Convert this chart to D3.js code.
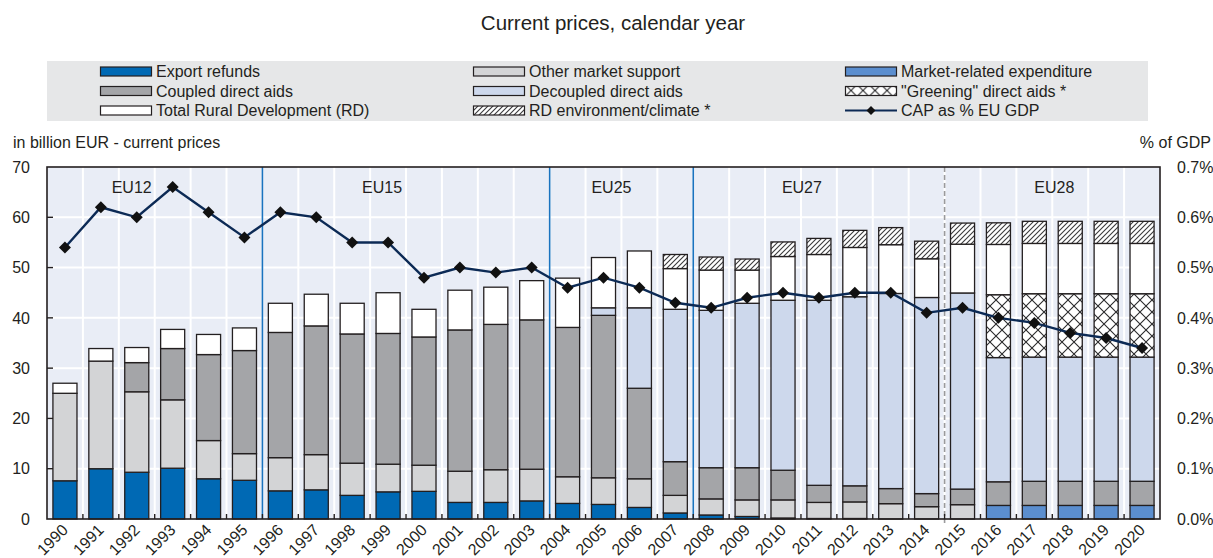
<!DOCTYPE html>
<html>
<head>
<meta charset="utf-8">
<script src="https://cdn.jsdelivr.net/npm/d3@7"></script>
<style>
  html, body { margin: 0; padding: 0; background: #ffffff; }
  svg { display: block; }
  text { font-family: "Liberation Sans", Arial, Helvetica, sans-serif; fill: #231f20; }
</style>
</head>
<body>
<svg id="chart" width="1213" height="558"></svg>
<script>
// ---- Data (billion EUR, current prices) ----
const years = ["1990","1991","1992","1993","1994","1995","1996","1997","1998","1999",
  "2000","2001","2002","2003","2004","2005","2006","2007","2008","2009",
  "2010","2011","2012","2013","2014","2015","2016","2017","2018","2019","2020"];

const exportRefunds = [7.6,10.0,9.3,10.1,8.0,7.7,5.6,5.8,4.7,5.4,
  5.5,3.3,3.3,3.6,3.1,2.9,2.3,1.2,0.8,0.5,
  0.2,0.1,0.1,0,0,0,0,0,0,0,0];
const marketRelated = [0,0,0,0,0,0,0,0,0,0,
  0,0,0,0,0,0,0,0,0,0,
  0,0,0,0,0,0,2.7,2.7,2.7,2.7,2.7];
const otherMarket = [17.4,21.4,16.0,13.6,7.6,5.3,6.6,7.0,6.4,5.5,
  5.2,6.2,6.5,6.3,5.3,5.3,5.7,3.5,3.2,3.3,
  3.6,3.2,3.3,3.05,2.45,2.85,0,0,0,0,0];
const coupledAids = [0,0,5.8,10.2,17.1,20.5,24.9,25.6,25.7,26.0,
  25.5,28.1,28.9,29.7,29.7,32.3,18.0,6.7,6.2,6.4,
  5.9,3.4,3.2,3.0,2.6,3.1,4.7,4.8,4.8,4.8,4.8];
const decoupledAids = [0,0,0,0,0,0,0,0,0,0,
  0,0,0,0,0,1.5,16.0,30.3,31.3,32.7,
  33.8,36.8,37.6,38.8,39.0,39.0,24.7,24.7,24.7,24.7,24.7];
const greeningAids = [0,0,0,0,0,0,0,0,0,0,
  0,0,0,0,0,0,0,0,0,0,
  0,0,0,0,0,0,12.5,12.6,12.6,12.6,12.6];
const ruralDevelopment = [2.0,2.5,3.0,3.8,4.0,4.5,5.8,6.3,6.1,8.1,
  5.5,7.9,7.4,7.8,9.8,10.0,11.3,8.1,8.0,6.6,
  8.7,9.1,9.8,9.7,7.7,9.7,10.0,10.0,10.0,10.0,10.0];
const rdEnvClimate = [0,0,0,0,0,0,0,0,0,0,
  0,0,0,0,0,0,0,2.8,2.6,2.2,
  2.9,3.2,3.4,3.4,3.5,4.2,4.3,4.4,4.4,4.4,4.4];

// CAP expenditure as % of EU GDP
const capShareGdp = [0.54,0.62,0.60,0.66,0.61,0.56,0.61,0.60,0.55,0.55,
  0.48,0.50,0.49,0.50,0.46,0.48,0.46,0.43,0.42,0.44,
  0.45,0.44,0.45,0.45,0.41,0.42,0.40,0.39,0.37,0.36,0.34];

// EU enlargement periods (first year of each membership)
const regionNames = ["EU12","EU15","EU25","EU27","EU28"];
const regionStarts = ["1990","1996","2004","2008","2015"];

const leftTicks = [0,10,20,30,40,50,60,70];
const rightTicks = [0,0.1,0.2,0.3,0.4,0.5,0.6,0.7];

// ---- Series definitions (stacking order, bottom to top) ----
const series = [
  { key: "exp",  label: "Export refunds",               values: exportRefunds,   fill: "#0069b4" },
  { key: "mre",  label: "Market-related expenditure",   values: marketRelated,   fill: "#5b8ecf" },
  { key: "oms",  label: "Other market support",         values: otherMarket,     fill: "#d3d4d6" },
  { key: "cpl",  label: "Coupled direct aids",          values: coupledAids,     fill: "#a4a5a8" },
  { key: "dcp",  label: "Decoupled direct aids",        values: decoupledAids,   fill: "#cdd8ec" },
  { key: "grn",  label: "\"Greening\" direct aids *",   values: greeningAids,    fill: "url(#crossHatch)" },
  { key: "rd",   label: "Total Rural Development (RD)", values: ruralDevelopment, fill: "#ffffff" },
  { key: "rde",  label: "RD environment/climate *",     values: rdEnvClimate,    fill: "url(#diagHatch)" }
];

const rows = years.map((y, i) => {
  const r = { year: y };
  series.forEach(s => { r[s.key] = s.values[i]; });
  return r;
});

// ---- Layout ----
const plot = { left: 47, right: 1160, top: 167, bottom: 519 };
const ink = "#231f20";

const svg = d3.select("#chart");

const defs = svg.append("defs");
const diag = defs.append("pattern")
  .attr("id", "diagHatch").attr("patternUnits", "userSpaceOnUse")
  .attr("width", 5).attr("height", 5);
diag.append("rect").attr("width", 5).attr("height", 5).attr("fill", "#ffffff");
diag.append("path")
  .attr("d", "M-1,6 L6,-1 M-1,1 L1,-1 M4,6 L6,4")
  .attr("stroke", "#3a3a3c").attr("stroke-width", 1.1);

const cross = defs.append("pattern")
  .attr("id", "crossHatch").attr("patternUnits", "userSpaceOnUse")
  .attr("width", 12).attr("height", 12);
cross.append("rect").attr("width", 12).attr("height", 12).attr("fill", "#ffffff");
cross.append("path")
  .attr("d", "M0,0 L12,12 M12,0 L0,12")
  .attr("stroke", "#2a2a2c").attr("stroke-width", 1.1);

const x = d3.scaleBand().domain(years).range([plot.left, plot.right]).padding(0);
const barW = x.bandwidth() * 0.67;
const y = d3.scaleLinear().domain([0, 70]).range([plot.bottom, plot.top]);
const yR = d3.scaleLinear().domain([0, 0.7]).range([plot.bottom, plot.top]);

// Title
svg.append("text")
  .attr("x", 613).attr("y", 30)
  .attr("text-anchor", "middle")
  .style("font-size", "20.5px")
  .text("Current prices, calendar year");

// ---- Legend ----
const legend = svg.append("g");
legend.append("rect")
  .attr("x", 47).attr("y", 61).attr("width", 1101).attr("height", 60)
  .attr("fill", "#e6e7e8");

const legendItems = [
  [series[0], series[2], series[1]],
  [series[3], series[4], series[5]],
  [series[6], series[7], { key: "line", label: "CAP as % EU GDP" }]
];
const colX = [100, 473, 845];
const rowY = [77, 96.5, 116];
legendItems.forEach((row, ri) => {
  row.forEach((item, ci) => {
    const g = legend.append("g").attr("transform", `translate(${colX[ci]},${rowY[ri]})`);
    if (item.key === "line") {
      g.append("line").attr("x1", 0).attr("x2", 52).attr("y1", -5.5).attr("y2", -5.5)
        .attr("stroke", "#0c2a55").attr("stroke-width", 2.2);
      g.append("path")
        .attr("d", d3.symbol().type(d3.symbolSquare).size(40)())
        .attr("transform", "translate(26,-5.5) rotate(45)")
        .attr("fill", "#111111");
    } else {
      g.append("rect").attr("x", 0.5).attr("y", -10).attr("width", 51).attr("height", 9)
        .attr("fill", item.fill).attr("stroke", ink).attr("stroke-width", 1.2);
    }
    g.append("text").attr("x", 56).attr("y", 0)
      .style("font-size", "16px").text(item.label);
  });
});

// Axis captions
svg.append("text").attr("x", 13).attr("y", 148)
  .style("font-size", "16px").text("in billion EUR - current prices");
svg.append("text").attr("x", 1211).attr("y", 148)
  .attr("text-anchor", "end")
  .style("font-size", "16px").text("% of GDP");

// ---- Plot background and grid ----
svg.append("rect")
  .attr("x", plot.left).attr("y", plot.top)
  .attr("width", plot.right - plot.left).attr("height", plot.bottom - plot.top)
  .attr("fill", "#e9edf6");

const grid = svg.append("g");
grid.selectAll("line.h").data(leftTicks.slice(1, -1)).join("line")
  .attr("x1", plot.left).attr("x2", plot.right)
  .attr("y1", d => y(d)).attr("y2", d => y(d))
  .attr("stroke", "#ffffff").attr("stroke-width", 2);
grid.selectAll("line.v").data(years.slice(1)).join("line")
  .attr("x1", d => x(d)).attr("x2", d => x(d))
  .attr("y1", plot.top).attr("y2", plot.bottom)
  .attr("stroke", "#ffffff").attr("stroke-width", 2);

// Enlargement separators
const seps = svg.append("g");
regionStarts.slice(1).forEach((start, i) => {
  const isLast = i === regionStarts.length - 2;
  seps.append("line")
    .attr("x1", x(start)).attr("x2", x(start))
    .attr("y1", plot.top).attr("y2", isLast ? plot.bottom + 4 : plot.bottom)
    .attr("stroke", isLast ? "#9a9a9c" : "#1a73bf")
    .attr("stroke-width", 1.6)
    .attr("stroke-dasharray", isLast ? "5,3" : null);
});

// Region labels
const labelShift = [-23, -24, -10, -17, 2];
regionNames.forEach((name, i) => {
  const start = x(regionStarts[i]);
  const end = i < regionStarts.length - 1 ? x(regionStarts[i + 1]) : plot.right;
  svg.append("text")
    .attr("x", (start + end) / 2 + labelShift[i]).attr("y", 193)
    .attr("text-anchor", "middle")
    .style("font-size", "16px").text(name);
});

// ---- Stacked bars ----
const stack = d3.stack().keys(series.map(s => s.key));
const stacked = stack(rows);
const bars = svg.append("g");
stacked.forEach((layer, li) => {
  const s = series[li];
  bars.append("g").selectAll("rect")
    .data(layer.filter(d => d[1] - d[0] > 0))
    .join("rect")
    .attr("x", d => x(d.data.year) + (x.bandwidth() - barW) / 2)
    .attr("width", barW)
    .attr("y", d => y(d[1]))
    .attr("height", d => y(d[0]) - y(d[1]))
    .attr("fill", s.fill)
    .attr("stroke", ink)
    .attr("stroke-width", 1.3);
});

// ---- Frame, ticks ----
svg.append("rect")
  .attr("x", plot.left).attr("y", plot.top)
  .attr("width", plot.right - plot.left).attr("height", plot.bottom - plot.top)
  .attr("fill", "none").attr("stroke", ink).attr("stroke-width", 1.6);

svg.append("g").selectAll("line").data(years.slice(1)).join("line")
  .attr("x1", d => x(d)).attr("x2", d => x(d))
  .attr("y1", plot.bottom).attr("y2", plot.bottom - 5)
  .attr("stroke", ink).attr("stroke-width", 1.4);
svg.append("g").selectAll("line").data(leftTicks.slice(1, -1)).join("line")
  .attr("x1", plot.left).attr("x2", plot.left + 6)
  .attr("y1", d => y(d)).attr("y2", d => y(d))
  .attr("stroke", ink).attr("stroke-width", 1.4);

// Left axis labels
svg.append("g").selectAll("text").data(leftTicks).join("text")
  .attr("x", 30).attr("y", d => y(d)).attr("dy", "0.36em")
  .attr("text-anchor", "end")
  .style("font-size", "16px").text(d => d);

// Right axis labels
svg.append("g").selectAll("text").data(rightTicks).join("text")
  .attr("x", 1177).attr("y", d => yR(d)).attr("dy", "0.36em")
  .style("font-size", "16px").text(d => d3.format(".1f")(d * 100 / 100) + "%");

// X axis labels
svg.append("g").selectAll("text").data(years).join("text")
  .attr("transform", d => `translate(${x(d) + x.bandwidth() / 2 + 4},${plot.bottom + 12}) rotate(-45)`)
  .attr("text-anchor", "end")
  .style("font-size", "16px").text(d => d);

// ---- CAP as % of GDP line ----
const line = d3.line()
  .x((d, i) => x(years[i]) + x.bandwidth() / 2)
  .y(d => yR(d));
svg.append("path").datum(capShareGdp)
  .attr("d", line)
  .attr("fill", "none").attr("stroke", "#0c2a55").attr("stroke-width", 2.4);
svg.append("g").selectAll("path").data(capShareGdp).join("path")
  .attr("d", d3.symbol().type(d3.symbolSquare).size(72)())
  .attr("transform", (d, i) => `translate(${x(years[i]) + x.bandwidth() / 2},${yR(d)}) rotate(45)`)
  .attr("fill", "#111111");
</script>
</body>
</html>
